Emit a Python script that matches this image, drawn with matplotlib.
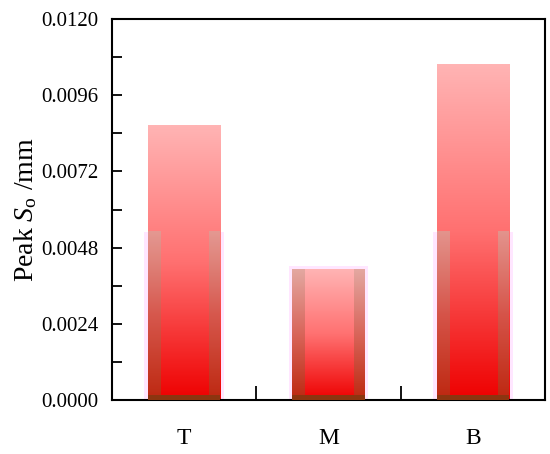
import matplotlib
matplotlib.use('Agg')
import matplotlib.pyplot as plt
import numpy as np
from matplotlib.colors import LinearSegmentedColormap
from matplotlib.patches import Rectangle
from matplotlib.ticker import MultipleLocator

categories = ['T', 'M', 'B']
peak_so = [0.00866, 0.00410, 0.01058]
shade_top = 0.0053  # height of the pink/brown shading behind the bars

plt.rcParams['font.family'] = ['Liberation Serif', 'DejaVu Serif']
plt.rcParams['mathtext.fontset'] = 'custom'
plt.rcParams['mathtext.rm'] = 'Liberation Serif'
plt.rcParams['mathtext.it'] = 'Liberation Serif:italic'

bar_cmap = LinearSegmentedColormap.from_list('bar', ['#ee0000', '#ff7070', '#ffb4b4'])
side_cmap = LinearSegmentedColormap.from_list('side', ['#a83a18', '#c86050', '#d8a49a'])
grad = np.linspace(0, 1, 256).reshape(-1, 1)

fig = plt.figure(figsize=(5.5, 4.54), dpi=100)
ax = fig.add_axes([0.2036, 0.119, 0.7874, 0.839])

w = 0.5
for i, v in enumerate(peak_so):
    left = i - w / 2
    # faint pink glow behind
    h_pink = min(v + 0.00012, shade_top)
    ax.add_patch(Rectangle((i - 0.275, 0), 0.55, h_pink, color='#ffe6ff', zorder=1, lw=0))
    # gradient bar
    ax.imshow(grad, cmap=bar_cmap, origin='lower', aspect='auto',
              extent=(left, left + w, 0, v), zorder=2)
    # darker side strips on the lower part
    hs = min(v, shade_top)
    ax.imshow(grad, cmap=side_cmap, origin='lower', aspect='auto',
              extent=(left, left + 0.09, 0, hs), zorder=3, alpha=0.7)
    ax.imshow(grad, cmap=side_cmap, origin='lower', aspect='auto',
              extent=(left + w - 0.075, left + w, 0, hs), zorder=3, alpha=0.7)
    # brown base band
    ax.add_patch(Rectangle((left, 0), w, 0.00016, color='#8b3510', zorder=4, lw=0))

ax.set_xlim(-0.5, 2.5)
ax.set_ylim(0, 0.012)

ax.yaxis.set_major_locator(MultipleLocator(0.0024))
ax.yaxis.set_minor_locator(MultipleLocator(0.0012))
ax.set_yticklabels([f'{t:.4f}' for t in ax.get_yticks()])
ax.tick_params(axis='y', which='both', direction='in', length=7, width=1.3,
               labelsize=15, pad=10, right=False)

ax.set_xticks([0.5, 1.5])
ax.set_xticklabels([])
ax.set_xticks(range(len(categories)), minor=True)
ax.set_xticklabels(categories, minor=True)
ax.tick_params(axis='x', which='major', direction='in', length=10, width=1.3, top=False)
ax.tick_params(axis='x', which='minor', length=0, labelsize=17, pad=20)

for s in ax.spines.values():
    s.set_linewidth(1.5)

ax.set_ylabel('Peak $\\mathit{S}_\\mathrm{o}$ /mm', fontsize=20, labelpad=1)

fig.savefig('out.png', dpi=100)
